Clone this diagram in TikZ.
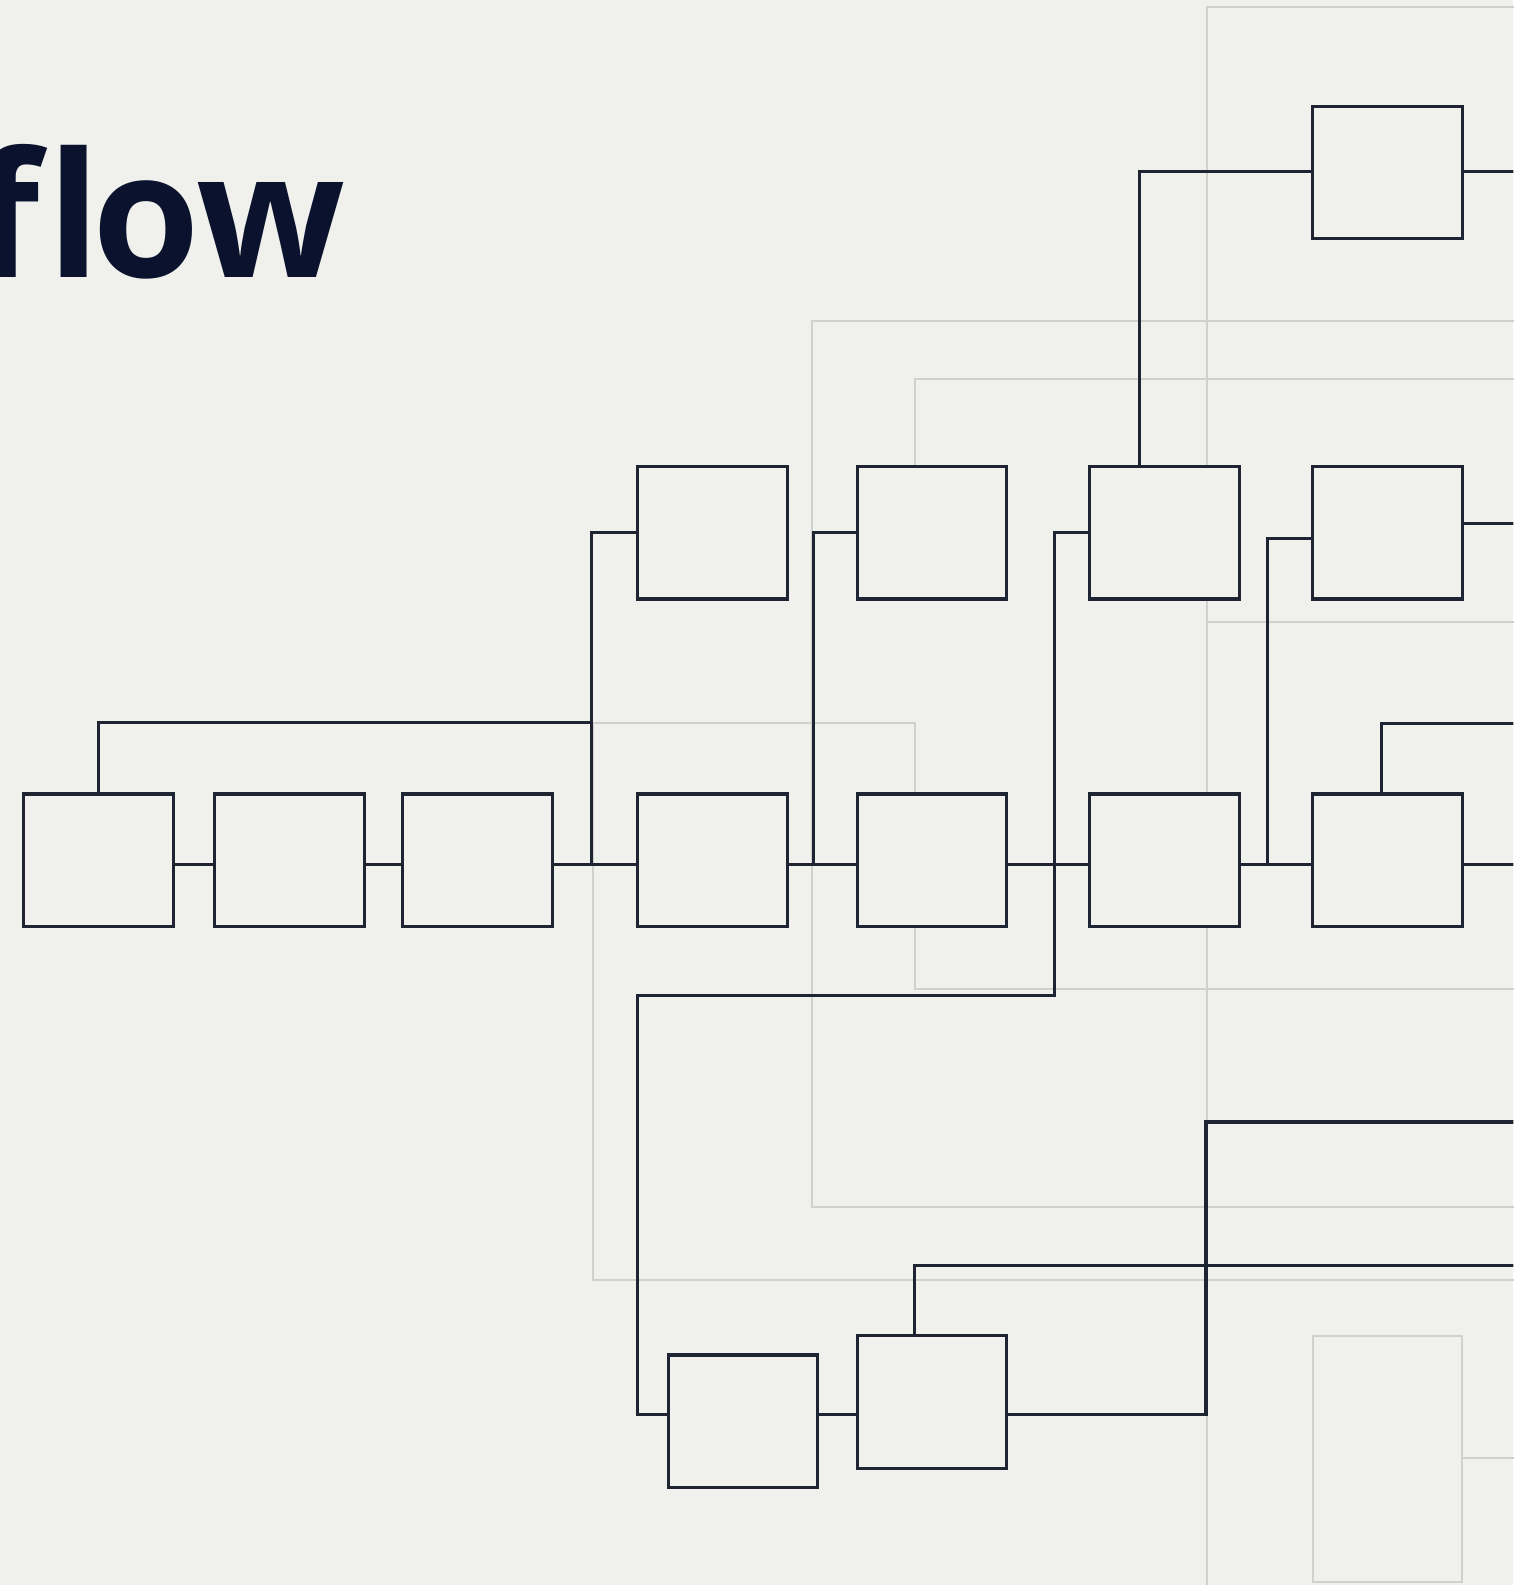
\documentclass[tikz,border=0pt]{standalone}
\usepackage{fontspec}
\newfontfamily\titlefont{Open Sans}[LetterSpace=4.0]
\usetikzlibrary{calc}
\definecolor{paper}{RGB}{240,240,236}
\definecolor{ink}{RGB}{30,36,50}
\definecolor{titleink}{RGB}{10,18,45}
\definecolor{faint}{RGB}{208,209,207}
\pgfdeclarelayer{bg}
\pgfdeclarelayer{ghostlayer}
\pgfsetlayers{bg,ghostlayer,main}
\tikzset{
  box/.style={draw=ink, fill=paper, line width=1.8pt, inner sep=0pt,
    minimum width=2.96cm, minimum height=2.62cm},
  ghostbox/.style={draw=faint, fill=paper, line width=1.1pt, inner sep=0pt,
    minimum width=2.96cm, minimum height=4.86cm},
  wire/.style={draw=ink, line width=1.8pt},
  ghost/.style={draw=faint, line width=1.1pt},
}
\begin{document}
\begin{tikzpicture}[x=0.02cm, y=-0.02cm]
\useasboundingbox (0,0) rectangle (1497,1568);
\clip (0,0) rectangle (1497,1568);
\begin{pgfonlayer}{bg}
  \fill[paper] (0,0) rectangle (1497,1568);
\end{pgfonlayer}

% title
\node[anchor=base east, inner sep=0pt, text=titleink,
  font=\titlefont\bfseries\fontsize{98}{98}\selectfont] (title) at (342,275)
  {f\kern4.8pt l\kern-4.8pt o\kern-2.3pt w};

% main row
\node[box] (A) at (97.5,851) {};
\node[box] (B) at (286.5,851) {};
\node[box] (C) at (472.5,851) {};
\node[box] (D) at (705,851) {};
\node[box] (E) at (922,851) {};
\node[box] (F) at (1152,851) {};
\node[box] (G) at (1372.5,851) {};
% upper row
\node[box] (H) at (705,527) {};
\node[box] (I) at (922,527) {};
\node[box] (J) at (1152,527) {};
\node[box] (K) at (1372.5,527) {};
\node[box] (L) at (1372.5,170.5) {};
% lower pair
\node[box] (M) at (735,1406) {};
\node[box] (N) at (922,1387) {};
% faded box
\begin{pgfonlayer}{ghostlayer}
\node[ghostbox] (O) at (1372.5,1443.5) {};
\end{pgfonlayer}

% junctions and free ends
\coordinate (mid) at (0,855);
\coordinate (b1) at (585,855);
\coordinate (b1top) at (585,715);
\coordinate (b2) at (805,855);
\coordinate (c1) at (1043,985);
\coordinate (c2) at (631,1399);
\coordinate (b4) at (1254,855);
\coordinate (jt) at (1127,170);
\coordinate (kin) at (0,533);
\coordinate (kout) at (1510,518);
\coordinate (gt) at (1367,716);
\coordinate (low) at (0,1399);
\coordinate (nt) at (905,1252);
\coordinate (nr) at (1193,1110);
\coordinate (east) at (1510,0);

% dark connectors
\draw[wire] (A.east|-mid) -- (B.west|-mid);
\draw[wire] (B.east|-mid) -- (C.west|-mid);
\draw[wire] (C.east|-mid) -- (D.west|-mid);
\draw[wire] (D.east|-mid) -- (E.west|-mid);
\draw[wire] (E.east|-mid) -- (F.west|-mid);
\draw[wire] (F.east|-mid) -- (G.west|-mid);
\draw[wire] (G.east|-mid) -- (east|-mid);
\draw[wire] (A.north) |- (b1top) -- (b1);
\draw[wire] (H.west) -| (b1);
\draw[wire] (I.west) -| (b2);
\draw[wire] (J.west) -| (c1) -| (c2) -- (M.west|-c2);
\draw[wire] (J.north-|jt) |- (L.west|-jt);
\draw[wire] (L.east|-jt) -- (east|-jt);
\draw[wire] (K.west|-kin) -| (b4);
\draw[wire] (K.east|-kout) -- (kout);
\draw[wire] (G.north-|gt) |- (east|-gt);
\draw[wire] (M.east|-low) -- (N.west|-low);
\draw[wire] (N.north-|nt) |- (east|-nt);
\draw[wire] (N.east|-low) -| (nr) -- (east|-nr);

% faded background routes
\begin{pgfonlayer}{ghostlayer}
  \coordinate (g1) at (1194,7);
  \coordinate (g2) at (803,318);
  \coordinate (g3) at (905,375);
  \coordinate (g4) at (587,715);
  \draw[ghost] (east|-g1) -| (1194,1580);
  \draw[ghost] (1194,615) -- (east|-0,615);
  \draw[ghost] (east|-g2) -| (803,1194) -- (east|-0,1194);
  \draw[ghost] (east|-g3) -| (I.north-|g3);
  \draw[ghost] (E.north-|g3) |- (g4) |- (east|-0,1266);
  \draw[ghost] (E.south-|g3) |- (east|-0,978);
  \draw[ghost] (O.east|-0,1442) -- (east|-0,1442);
\end{pgfonlayer}
\end{tikzpicture}
\end{document}
